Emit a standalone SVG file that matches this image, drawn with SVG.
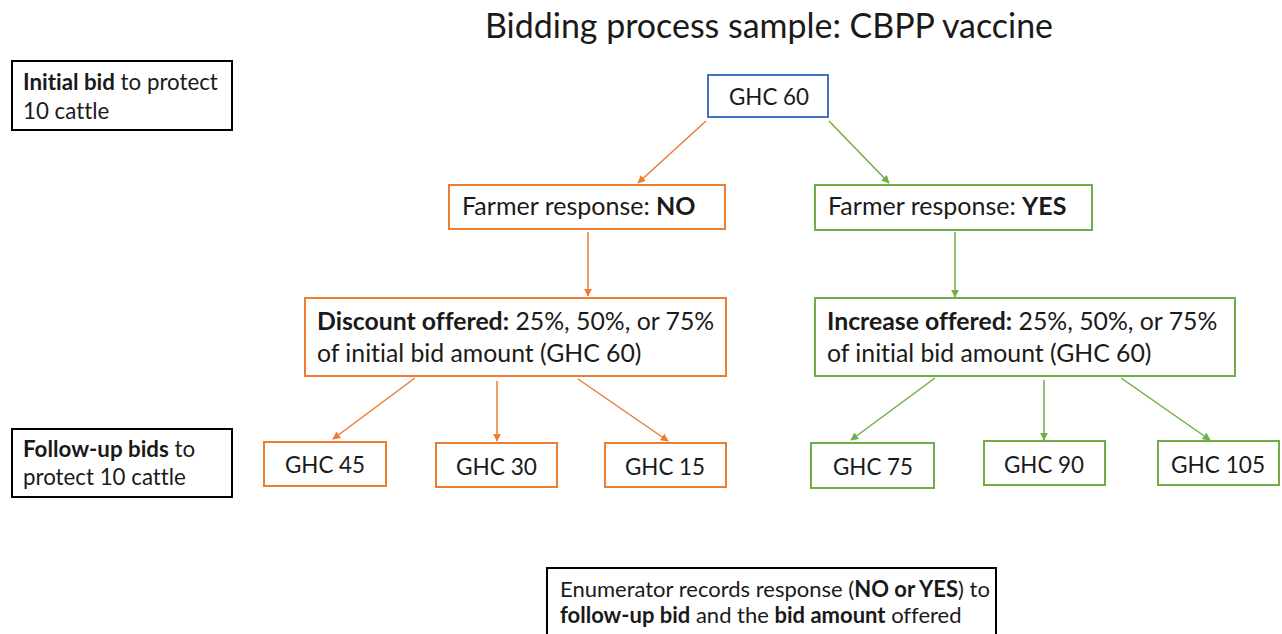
<svg xmlns="http://www.w3.org/2000/svg" width="1282" height="634" viewBox="0 0 1282 634">
<style>
text{font-family:Lato,"Open Sans",sans-serif;fill:#1a1a1a;font-size:24px;font-variant-ligatures:none}
.b{font-weight:bold}
.title{font-size:34px}
.lab{font-size:22.3px}
.fr{font-size:25px}
.of{font-size:24.8px}
.en{font-size:22px}
.k{fill:#fff;stroke:#000;stroke-width:2}
.o{fill:#fff;stroke:#ED7D31;stroke-width:2}
.g{fill:#fff;stroke:#70AD47;stroke-width:2}
.bl{fill:#fff;stroke:#4472C4;stroke-width:2}
.co{stroke:#ED7D31;stroke-width:1.5;fill:none;marker-end:url(#ao)}
.cg{stroke:#70AD47;stroke-width:1.5;fill:none;marker-end:url(#ag)}
</style>
<defs>
<marker id="ao" viewBox="0 0 10 10" refX="9" refY="5" markerWidth="8" markerHeight="8" orient="auto" markerUnits="userSpaceOnUse"><path d="M0,0 L10,5 L0,10 z" fill="#ED7D31"/></marker>
<marker id="ag" viewBox="0 0 10 10" refX="9" refY="5" markerWidth="8" markerHeight="8" orient="auto" markerUnits="userSpaceOnUse"><path d="M0,0 L10,5 L0,10 z" fill="#70AD47"/></marker>
</defs>
<rect width="1282" height="634" fill="#fff"/>
<text class="title" x="485" y="38" textLength="568" lengthAdjust="spacingAndGlyphs">Bidding process sample: CBPP vaccine</text>

<g id="connectors">
<line class="co" x1="706" y1="121" x2="638" y2="183"/>
<line class="cg" x1="829" y1="121" x2="889" y2="183"/>
<line class="co" x1="588" y1="232" x2="588" y2="296"/>
<line class="cg" x1="955" y1="232" x2="955" y2="297"/>
<line class="co" x1="415" y1="378" x2="333" y2="439"/>
<line class="co" x1="497" y1="381" x2="497" y2="441"/>
<line class="co" x1="578" y1="379" x2="668" y2="441"/>
<line class="cg" x1="935" y1="378" x2="851" y2="440"/>
<line class="cg" x1="1044" y1="380" x2="1044" y2="440"/>
<line class="cg" x1="1121" y1="378" x2="1210" y2="440"/>
</g>

<g id="initial-bid-label">
<rect class="k" x="12" y="61" width="220" height="69"/>
<text class="lab" x="23" y="90"><tspan class="b">Initial bid</tspan> to protect</text>
<text class="lab" x="23" y="119">10 cattle</text>
</g>

<g id="ghc60">
<rect class="bl" x="708" y="75" width="120" height="42"/>
<text x="729" y="105" textLength="80" lengthAdjust="spacingAndGlyphs">GHC 60</text>
</g>

<g id="response-no">
<rect class="o" x="449" y="185" width="276" height="44"/>
<text class="fr" x="462" y="215">Farmer response: <tspan class="b">NO</tspan></text>
</g>

<g id="response-yes">
<rect class="g" x="815" y="185" width="277" height="45"/>
<text class="fr" x="828" y="215">Farmer response: <tspan class="b">YES</tspan></text>
</g>

<g id="discount">
<rect class="o" x="305" y="298" width="421" height="78"/>
<text class="of" x="317" y="330"><tspan class="b">Discount offered:</tspan> 25%, 50%, or 75%</text>
<text class="of" x="317" y="362">of initial bid amount (GHC 60)</text>
</g>

<g id="increase">
<rect class="g" x="815" y="298" width="420" height="78"/>
<text class="of" x="827" y="330"><tspan class="b">Increase offered:</tspan> 25%, 50%, or 75%</text>
<text class="of" x="827" y="362">of initial bid amount (GHC 60)</text>
</g>

<g id="follow-up-label">
<rect class="k" x="12" y="429" width="220" height="68"/>
<text class="lab" x="23" y="457"><tspan class="b">Follow-up bids</tspan> to</text>
<text class="lab" x="23" y="485">protect 10 cattle</text>
</g>

<g id="ghc45"><rect class="o" x="264" y="442" width="122" height="44"/><text x="285" y="473" textLength="80" lengthAdjust="spacingAndGlyphs">GHC 45</text></g>
<g id="ghc30"><rect class="o" x="436" y="443" width="121" height="44"/><text x="456" y="475" textLength="81" lengthAdjust="spacingAndGlyphs">GHC 30</text></g>
<g id="ghc15"><rect class="o" x="605" y="443" width="121" height="44"/><text x="625" y="475" textLength="80" lengthAdjust="spacingAndGlyphs">GHC 15</text></g>
<g id="ghc75"><rect class="g" x="811" y="443" width="123" height="45"/><text x="833" y="475" textLength="80" lengthAdjust="spacingAndGlyphs">GHC 75</text></g>
<g id="ghc90"><rect class="g" x="984" y="441" width="121" height="44"/><text x="1004" y="473" textLength="80" lengthAdjust="spacingAndGlyphs">GHC 90</text></g>
<g id="ghc105"><rect class="g" x="1158" y="441" width="121" height="44"/><text x="1171" y="473" textLength="94" lengthAdjust="spacingAndGlyphs">GHC 105</text></g>

<g id="enumerator-note">
<rect class="k" x="547" y="568" width="449" height="80"/>
<text class="en" x="560" y="597">Enumerator records response (<tspan class="b">NO or YES</tspan>) to</text>
<text class="en" x="560" y="623"><tspan class="b">follow-up bid</tspan> and the <tspan class="b">bid amount</tspan> offered</text>
</g>
</svg>
